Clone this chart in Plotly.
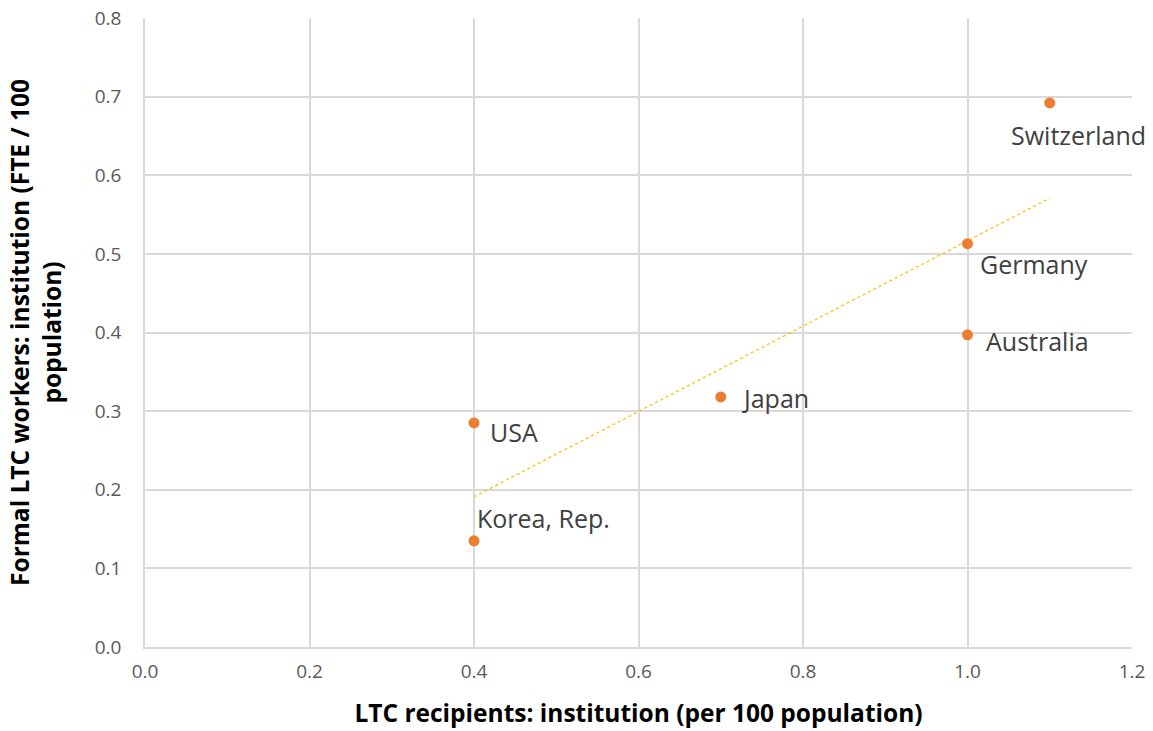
import numpy as np
import plotly.graph_objects as go

countries = ["Switzerland", "Germany", "Australia", "Japan", "USA", "Korea, Rep."]
recipients = [1.1, 1.0, 1.0, 0.7, 0.4, 0.4]
workers = [0.692, 0.513, 0.397, 0.318, 0.285, 0.135]

x_ticks = [0.0, 0.2, 0.4, 0.6, 0.8, 1.0, 1.2]
y_ticks = [0.0, 0.1, 0.2, 0.3, 0.4, 0.5, 0.6, 0.7, 0.8]

# label offsets in pixels (xshift, yshift) relative to each point
label_offsets = {
    "Switzerland": (-41, -32),
    "Germany": (10, -20),
    "Australia": (16, -6),
    "Japan": (19, -1),
    "USA": (14, -9),
    "Korea, Rep.": (1, 23),
}

FONT = "Open Sans, Segoe UI, DejaVu Sans, sans-serif"

slope, intercept = np.polyfit(recipients, workers, 1)
tx = np.array([min(recipients), max(recipients)])
ty = slope * tx + intercept

fig = go.Figure()
fig.add_trace(go.Scatter(
    x=tx, y=ty, mode="lines",
    line=dict(color="#FFC000", width=1.3, dash="dot"),
    hoverinfo="skip", showlegend=False,
))
fig.add_trace(go.Scatter(
    x=recipients, y=workers, mode="markers",
    marker=dict(color="#ED7D31", size=11),
    text=countries, showlegend=False,
))

for c, xv, yv in zip(countries, recipients, workers):
    dx, dy = label_offsets[c]
    fig.add_annotation(
        x=xv, y=yv, text=c, showarrow=False,
        xanchor="left", yanchor="middle",
        xshift=dx, yshift=dy,
        font=dict(family=FONT, size=25, color="#404040"),
    )

fig.update_layout(
    width=1153, height=731,
    margin=dict(l=145, r=21, t=18, b=84),
    plot_bgcolor="white", paper_bgcolor="white",
    font=dict(family=FONT, color="#595959"),
    xaxis=dict(
        range=[0, 1.2], tickvals=x_ticks,
        ticktext=[f"{v:.1f}" for v in x_ticks],
        showgrid=True, gridcolor="#D9D9D9", gridwidth=1.5,
        zeroline=False, showline=True, linecolor="#D9D9D9", linewidth=1.5,
        ticks="", ticklabelstandoff=6, automargin=False,
        tickfont=dict(family=FONT, size=19, color="#595959"),
        title=dict(text="<b>LTC recipients: institution (per 100 population)</b>",
                   font=dict(family=FONT, size=24.5, color="black"), standoff=22),
    ),
    yaxis=dict(
        range=[0, 0.8], tickvals=y_ticks,
        ticktext=[f"{v:.1f}" for v in y_ticks],
        showgrid=True, gridcolor="#D9D9D9", gridwidth=1.5,
        zeroline=False, showline=True, linecolor="#D9D9D9", linewidth=1.5,
        ticks="", ticklabelstandoff=18, automargin=False,
        tickfont=dict(family=FONT, size=19, color="#595959"),
        title=dict(text="<b>Formal LTC workers: institution (FTE / 100<br>population)</b>",
                   font=dict(family=FONT, size=24.5, color="black"), standoff=26),
    ),
)

fig.write_html("out.html", config={"displayModeBar": False},
               post_script="document.body.style.margin='0';document.body.style.overflow='hidden';")
